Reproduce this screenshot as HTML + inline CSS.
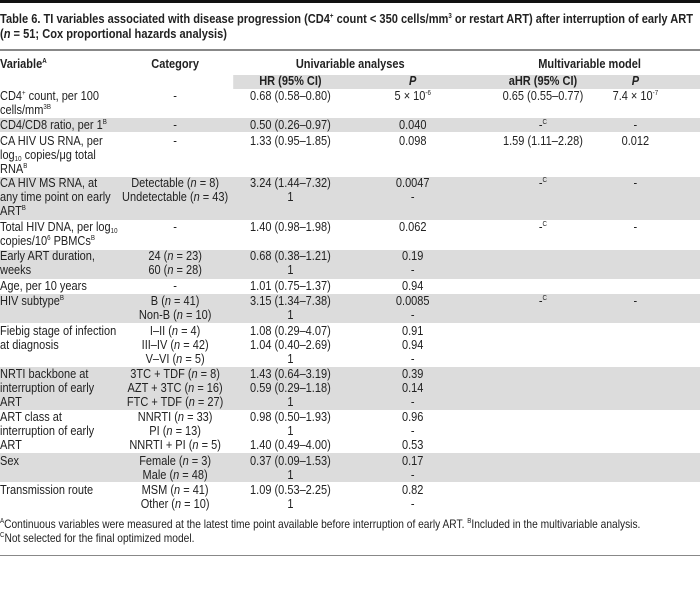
<!DOCTYPE html>
<html><head><meta charset="utf-8"><style>
body{margin:0;background:#fff;width:700px;height:607px;overflow:hidden;position:relative;font-family:"Liberation Sans",sans-serif;color:#222}
#w{position:absolute;left:0;top:0;width:796px;height:607px;transform:scaleX(0.88);transform-origin:0 0}
.a{position:absolute;font-size:12.5px;line-height:13.8px;white-space:nowrap}
.c{text-align:center;width:200px;margin-left:-100px}
.g{position:absolute;left:0;width:796px;background:#dcdcdc}
sup{font-size:7px;vertical-align:5px;line-height:0}
sub{font-size:7px;vertical-align:-2px;line-height:0}
.b{font-weight:bold}
i{font-style:italic}
</style></head><body><div id="w">
<div style="position:absolute;left:0;top:0;width:796px;height:3px;background:#111"></div>
<div class="a b" style="left:0;top:12px;font-size:12.6px;line-height:15px">Table 6. TI variables associated with disease progression (CD4<sup>+</sup> count &lt; 350 cells/mm<sup>3</sup> or restart ART) after interruption of early ART<br>(<i>n</i> = 51; Cox proportional hazards analysis)</div>
<div style="position:absolute;left:0;top:49px;width:796px;height:2px;background:#888"></div>
<div class="g" style="left:265px;width:531px;top:75px;height:14px"></div>
<div class="g" style="top:118px;height:14px"></div>
<div class="g" style="top:177px;height:43px"></div>
<div class="g" style="top:250px;height:29px"></div>
<div class="g" style="top:294px;height:29px"></div>
<div class="g" style="top:367px;height:43px"></div>
<div class="g" style="top:453px;height:29px"></div>
<div style="position:absolute;left:0;top:555px;width:796px;height:1px;background:#888"></div>

<div class="a b" style="left:0;top:58px">Variable<sup>A</sup></div>
<div class="a b c" style="left:199px;top:58px">Category</div>
<div class="a b c" style="left:398px;top:58px">Univariable analyses</div>
<div class="a b c" style="left:670px;top:58px">Multivariable model</div>
<div class="a b c" style="left:330px;top:75px">HR (95% CI)</div>
<div class="a b c" style="left:469px;top:75px"><i>P</i></div>
<div class="a b c" style="left:617px;top:75px">aHR (95% CI)</div>
<div class="a b c" style="left:722px;top:75px"><i>P</i></div>

<div class="a" style="left:0;top:90px">CD4<sup>+</sup> count, per 100<br>cells/mm<sup>3B</sup></div>
<div class="a" style="left:0;top:119px">CD4/CD8 ratio, per 1<sup>B</sup></div>
<div class="a" style="left:0;top:135px">CA HIV US RNA, per<br>log<sub>10</sub> copies/μg total<br>RNA<sup>B</sup></div>
<div class="a" style="left:0;top:177px">CA HIV MS RNA, at<br>any time point on early<br>ART<sup>B</sup></div>
<div class="a" style="left:0;top:221px">Total HIV DNA, per log<sub>10</sub><br>copies/10<sup>6</sup> PBMCs<sup>B</sup></div>
<div class="a" style="left:0;top:250px">Early ART duration,<br>weeks</div>
<div class="a" style="left:0;top:280px">Age, per 10 years</div>
<div class="a" style="left:0;top:295px">HIV subtype<sup>B</sup></div>
<div class="a" style="left:0;top:325px">Fiebig stage of infection<br>at diagnosis</div>
<div class="a" style="left:0;top:368px">NRTI backbone at<br>interruption of early<br>ART</div>
<div class="a" style="left:0;top:411px">ART class at<br>interruption of early<br>ART</div>
<div class="a" style="left:0;top:455px">Sex</div>
<div class="a" style="left:0;top:484px">Transmission route</div>

<div class="a c" style="left:199px;top:90px">-</div>
<div class="a c" style="left:199px;top:119px">-</div>
<div class="a c" style="left:199px;top:135px">-</div>
<div class="a c" style="left:199px;top:177px">Detectable (<i>n</i> = 8)<br>Undetectable (<i>n</i> = 43)</div>
<div class="a c" style="left:199px;top:221px">-</div>
<div class="a c" style="left:199px;top:250px">24 (<i>n</i> = 23)<br>60 (<i>n</i> = 28)</div>
<div class="a c" style="left:199px;top:280px">-</div>
<div class="a c" style="left:199px;top:295px">B (<i>n</i> = 41)<br>Non-B (<i>n</i> = 10)</div>
<div class="a c" style="left:199px;top:325px">I–II (<i>n</i> = 4)<br>III–IV (<i>n</i> = 42)<br>V–VI (<i>n</i> = 5)</div>
<div class="a c" style="left:199px;top:368px">3TC + TDF (<i>n</i> = 8)<br>AZT + 3TC (<i>n</i> = 16)<br>FTC + TDF (<i>n</i> = 27)</div>
<div class="a c" style="left:199px;top:411px">NNRTI (<i>n</i> = 33)<br>PI (<i>n</i> = 13)<br>NNRTI + PI (<i>n</i> = 5)</div>
<div class="a c" style="left:199px;top:455px">Female (<i>n</i> = 3)<br>Male (<i>n</i> = 48)</div>
<div class="a c" style="left:199px;top:484px">MSM (<i>n</i> = 41)<br>Other (<i>n</i> = 10)</div>

<div class="a c" style="left:330px;top:90px">0.68 (0.58–0.80)</div>
<div class="a c" style="left:330px;top:119px">0.50 (0.26–0.97)</div>
<div class="a c" style="left:330px;top:135px">1.33 (0.95–1.85)</div>
<div class="a c" style="left:330px;top:177px">3.24 (1.44–7.32)<br>1</div>
<div class="a c" style="left:330px;top:221px">1.40 (0.98–1.98)</div>
<div class="a c" style="left:330px;top:250px">0.68 (0.38–1.21)<br>1</div>
<div class="a c" style="left:330px;top:280px">1.01 (0.75–1.37)</div>
<div class="a c" style="left:330px;top:295px">3.15 (1.34–7.38)<br>1</div>
<div class="a c" style="left:330px;top:325px">1.08 (0.29–4.07)<br>1.04 (0.40–2.69)<br>1</div>
<div class="a c" style="left:330px;top:368px">1.43 (0.64–3.19)<br>0.59 (0.29–1.18)<br>1</div>
<div class="a c" style="left:330px;top:411px">0.98 (0.50–1.93)<br>1<br>1.40 (0.49–4.00)</div>
<div class="a c" style="left:330px;top:455px">0.37 (0.09–1.53)<br>1</div>
<div class="a c" style="left:330px;top:484px">1.09 (0.53–2.25)<br>1</div>

<div class="a c" style="left:469px;top:90px">5 × 10<sup>-6</sup></div>
<div class="a c" style="left:469px;top:119px">0.040</div>
<div class="a c" style="left:469px;top:135px">0.098</div>
<div class="a c" style="left:469px;top:177px">0.0047<br>-</div>
<div class="a c" style="left:469px;top:221px">0.062</div>
<div class="a c" style="left:469px;top:250px">0.19<br>-</div>
<div class="a c" style="left:469px;top:280px">0.94</div>
<div class="a c" style="left:469px;top:295px">0.0085<br>-</div>
<div class="a c" style="left:469px;top:325px">0.91<br>0.94<br>-</div>
<div class="a c" style="left:469px;top:368px">0.39<br>0.14<br>-</div>
<div class="a c" style="left:469px;top:411px">0.96<br>-<br>0.53</div>
<div class="a c" style="left:469px;top:455px">0.17<br>-</div>
<div class="a c" style="left:469px;top:484px">0.82<br>-</div>

<div class="a c" style="left:617px;top:90px">0.65 (0.55–0.77)</div>
<div class="a c" style="left:617px;top:119px">-<sup>C</sup></div>
<div class="a c" style="left:617px;top:135px">1.59 (1.11–2.28)</div>
<div class="a c" style="left:617px;top:177px">-<sup>C</sup></div>
<div class="a c" style="left:617px;top:221px">-<sup>C</sup></div>
<div class="a c" style="left:617px;top:295px">-<sup>C</sup></div>

<div class="a c" style="left:722px;top:90px">7.4 × 10<sup>-7</sup></div>
<div class="a c" style="left:722px;top:119px">-</div>
<div class="a c" style="left:722px;top:135px">0.012</div>
<div class="a c" style="left:722px;top:177px">-</div>
<div class="a c" style="left:722px;top:221px">-</div>
<div class="a c" style="left:722px;top:295px">-</div>

<div class="a" style="left:0;top:518px;font-size:11.6px"><sup>A</sup>Continuous variables were measured at the latest time point available before interruption of early ART. <sup>B</sup>Included in the multivariable analysis.<br><sup>C</sup>Not selected for the final optimized model.</div>
</div></body></html>
